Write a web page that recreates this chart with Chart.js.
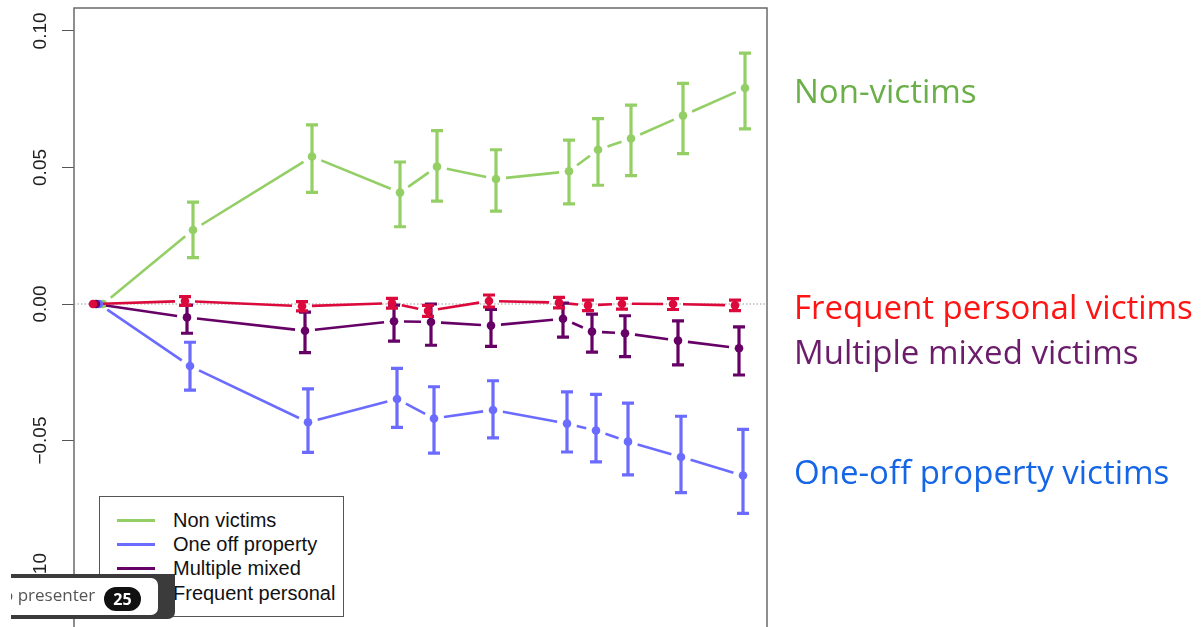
<!DOCTYPE html>
<html>
<head>
<meta charset="utf-8">
<title>Victim groups over time</title>
<script src="https://cdn.jsdelivr.net/npm/chart.js@4.4.1/dist/chart.umd.min.js"></script>
<style>
  html, body { margin: 0; padding: 0; background: #fff; overflow: hidden; width: 1204px; height: 627px; }
  #wrap { position: relative; width: 1204px; height: 627px; overflow: hidden; }
  #chart { position: absolute; left: 0; top: 0; }
  .legend { position: absolute; left: 99px; top: 496px; width: 243px; height: 119px; border: 1px solid #555; background: #fff;
            font-family: "Liberation Sans", Arial, sans-serif; font-size: 20px; color: #111; }
  .legend .sw { position: absolute; left: 17px; width: 38px; height: 3px; }
  .legend .tx { position: absolute; left: 73px; line-height: 20px; white-space: nowrap; }
  .note { position: absolute; left: 794px; font-family: "Open Sans", sans-serif; font-size: 33px; line-height: 33px; white-space: nowrap; }
  .badge { position: absolute; left: 11px; top: 574px; width: 164px; height: 45px; background: #3b3b3b; border-radius: 0 0 7px 0; }
  .badge .inner { position: absolute; left: 0; top: 4px; width: 147px; height: 37px; background: #fff; border-radius: 0 7px 7px 0; overflow: hidden; }
  .badge .lbl { position: absolute; left: -14px; top: 6px; font-family: "Open Sans", sans-serif; font-size: 17px; line-height: 22px; color: #555; white-space: nowrap; }
  .badge .num { position: absolute; left: 93px; top: 9px; width: 37px; height: 24px; background: #111; border-radius: 12px; color: #fff;
                font-family: "Open Sans", sans-serif; font-weight: 700; font-size: 16px; line-height: 24px; text-align: center; }
</style>
</head>
<body>
<div id="wrap">
  <canvas id="chart" width="1204" height="660"></canvas>

  <div class="legend" id="legend"></div>

  <div class="note" style="top:74px;color:#6aaf48">Non-victims</div>
  <div class="note" style="top:290px;color:#ff1414">Frequent personal victims</div>
  <div class="note" style="top:335px;color:#6b1d6b">Multiple mixed victims</div>
  <div class="note" style="top:455px;color:#1466e6">One-off property victims</div>

  <div class="badge"><div class="inner"><span class="lbl">to presenter</span><span class="num">25</span></div></div>
</div>

<script>
// y axis
const yTicks = [0.10, 0.05, 0.00, -0.05, -0.10];
const yTickLabels = ['0.10', '0.05', '0.00', '\u22120.05', '\u22120.10'];
const Y_MIN = -0.1267, Y_MAX = 0.1084;
const X_MIN = -1.9, X_MAX = 67.4;

// series (x in arbitrary time units, slightly dodged per group)
const nonX  = [1.0, 10.0, 21.9, 30.7, 34.4, 40.3, 47.6, 50.5, 53.8, 59.0, 65.2];
const nonY  = [0, 0.0271, 0.0540, 0.0408, 0.0503, 0.0458, 0.0486, 0.0565, 0.0606, 0.0690, 0.0791];
const nonLo = [0, 0.0170, 0.0409, 0.0283, 0.0377, 0.0340, 0.0367, 0.0435, 0.0470, 0.0551, 0.0641];
const nonHi = [0, 0.0373, 0.0656, 0.0520, 0.0635, 0.0565, 0.0600, 0.0679, 0.0728, 0.0808, 0.0919];

const oneX  = [0.6, 9.7, 21.5, 30.4, 34.1, 40.0, 47.4, 50.3, 53.5, 58.8, 65.0];
const oneY  = [0, -0.0227, -0.0433, -0.0348, -0.0419, -0.0388, -0.0438, -0.0463, -0.0504, -0.0560, -0.0628];
const oneLo = [0, -0.0315, -0.0543, -0.0452, -0.0546, -0.0490, -0.0542, -0.0578, -0.0626, -0.0691, -0.0767];
const oneHi = [0, -0.0140, -0.0311, -0.0236, -0.0303, -0.0281, -0.0322, -0.0331, -0.0363, -0.0411, -0.0459];

const mulX  = [0.3, 9.4, 21.2, 30.1, 33.8, 39.8, 47.0, 49.9, 53.2, 58.5, 64.6];
const mulY  = [0, -0.0049, -0.0098, -0.0063, -0.0066, -0.0079, -0.0054, -0.0101, -0.0107, -0.0134, -0.0162];
const mulLo = [0, -0.0107, -0.0178, -0.0136, -0.0151, -0.0155, -0.0121, -0.0176, -0.0193, -0.0223, -0.0260];
const mulHi = [0, -0.0004, -0.0030, -0.0004, 0.0000, -0.0020, 0.0003, -0.0037, -0.0043, -0.0062, -0.0084];

const freX  = [0.0, 9.2, 20.9, 29.9, 33.5, 39.6, 46.6, 49.5, 52.9, 58.0, 64.2];
const freY  = [0, 0.0011, -0.0008, 0.0003, -0.0025, 0.0011, 0.0005, -0.0005, 0.0001, 0.0000, -0.0005];
const freLo = [0, -0.0005, -0.0025, -0.0015, -0.0045, -0.0011, -0.0014, -0.0024, -0.0019, -0.0020, -0.0024];
const freHi = [0, 0.0027, 0.0009, 0.0021, -0.0005, 0.0033, 0.0024, 0.0014, 0.0021, 0.0020, 0.0014];

const groups = [
  { label: 'Frequent personal', color: '#dc0a3c', x: freX, y: freY, lo: freLo, hi: freHi },
  { label: 'Multiple mixed',    color: '#660066', x: mulX, y: mulY, lo: mulLo, hi: mulHi },
  { label: 'One off property',  color: '#6b6bff', x: oneX, y: oneY, lo: oneLo, hi: oneHi },
  { label: 'Non victims',       color: '#94cf66', x: nonX, y: nonY, lo: nonLo, hi: nonHi }
];

// legend, in the order of the original R legend
const legendOrder = ['Non victims', 'One off property', 'Multiple mixed', 'Frequent personal'];
document.getElementById('legend').innerHTML = legendOrder.map((name, i) => {
  const g = groups.find(g => g.label === name);
  const mid = 23 + i * 24.2;
  return `<div class="sw" style="top:${mid - 1.5}px;background:${g.color}"></div>` +
         `<div class="tx" style="top:${mid - 10}px">${name}</div>`;
}).join('');

// R type="b": segments stop short of the points, plus error bars with caps
const rStyle = {
  id: 'rStyle',
  beforeDatasetsDraw(chart) {
    const { ctx, chartArea: a } = chart;
    ctx.save();
    ctx.strokeStyle = '#6a6a6a';
    ctx.lineWidth = 1.5;
    ctx.strokeRect(a.left, a.top, a.right - a.left, a.bottom - a.top);
    ctx.restore();
  },
  beforeDatasetDraw(chart, args) {
    const ds = chart.data.datasets[args.index];
    if (!ds.errLo) return;
    const { ctx } = chart;
    const ys = chart.scales.y;
    const pts = args.meta.data;
    const gap = 10, cap = 6;
    ctx.save();
    ctx.strokeStyle = ds.backgroundColor;
    ctx.lineCap = 'butt';
    ctx.lineWidth = 2.6;
    for (let i = 1; i < pts.length; i++) {
      const p0 = pts[i - 1], p1 = pts[i];
      const dx = p1.x - p0.x, dy = p1.y - p0.y, len = Math.hypot(dx, dy);
      if (len <= gap * 2) continue;
      const ux = dx / len, uy = dy / len;
      ctx.beginPath();
      ctx.moveTo(p0.x + ux * gap, p0.y + uy * gap);
      ctx.lineTo(p1.x - ux * gap, p1.y - uy * gap);
      ctx.stroke();
    }
    ctx.lineWidth = 3.2;
    pts.forEach((p, i) => {
      if (ds.errLo[i] === ds.errHi[i]) return;
      const yl = ys.getPixelForValue(ds.errLo[i]);
      const yh = ys.getPixelForValue(ds.errHi[i]);
      ctx.beginPath();
      ctx.moveTo(p.x, yl); ctx.lineTo(p.x, yh);
      ctx.moveTo(p.x - cap, yl); ctx.lineTo(p.x + cap, yl);
      ctx.moveTo(p.x - cap, yh); ctx.lineTo(p.x + cap, yh);
      ctx.stroke();
    });
    ctx.restore();
  },
  afterDraw(chart) {
    const { ctx } = chart;
    const ys = chart.scales.y;
    ctx.save();
    ctx.font = '19px "Liberation Sans", Arial, sans-serif';
    ctx.fillStyle = '#222';
    ctx.textAlign = 'center';
    ctx.textBaseline = 'alphabetic';
    yTicks.forEach((v, i) => {
      ctx.save();
      ctx.translate(46, ys.getPixelForValue(v));
      ctx.rotate(-Math.PI / 2);
      ctx.fillText(yTickLabels[i], 0, 0);
      ctx.restore();
    });
    ctx.restore();
  }
};

const datasets = groups.map(g => ({
  label: g.label,
  data: g.x.map((x, i) => ({ x, y: g.y[i] })),
  errLo: g.lo,
  errHi: g.hi,
  showLine: false,
  pointRadius: 4.3,
  pointBorderWidth: 0,
  backgroundColor: g.color,
  borderColor: g.color
}));
// dotted zero reference line, drawn underneath everything
datasets.push({
  label: 'zero',
  data: [{ x: X_MIN, y: 0 }, { x: X_MAX, y: 0 }],
  showLine: true,
  borderColor: '#9a9a9a',
  borderWidth: 1,
  borderDash: [1.5, 2],
  pointRadius: 0
});

new Chart(document.getElementById('chart'), {
  type: 'scatter',
  data: { datasets },
  options: {
    responsive: false,
    animation: false,
    devicePixelRatio: 1,
    layout: { padding: { top: 8, right: 437, bottom: 10, left: 0 } },
    plugins: { legend: { display: false }, tooltip: { enabled: false } },
    scales: {
      x: { type: 'linear', min: X_MIN, max: X_MAX, display: false },
      y: {
        type: 'linear', min: Y_MIN, max: Y_MAX,
        afterBuildTicks: s => { s.ticks = yTicks.map(v => ({ value: v })); },
        afterFit: s => { s.width = 74; },
        ticks: { display: false },
        grid: { drawOnChartArea: false, drawTicks: true, tickLength: 12, color: '#555', lineWidth: 1 },
        border: { display: false }
      }
    }
  },
  plugins: [rStyle]
});
</script>
</body>
</html>
